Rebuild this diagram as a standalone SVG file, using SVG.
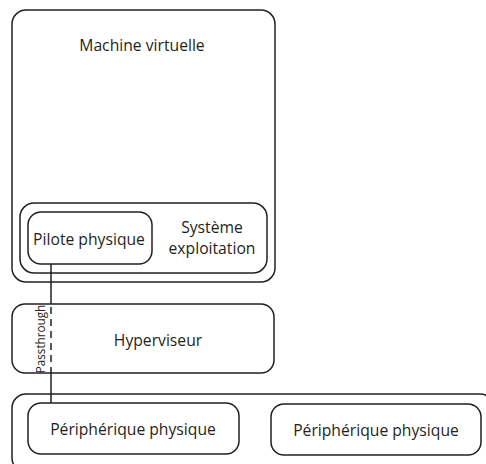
<svg xmlns="http://www.w3.org/2000/svg" width="486" height="464" viewBox="0 0 486 464">
  <style>
    .box { fill: #ffffff; stroke: #231f20; stroke-width: 1.5; }
    .lbl { font-family: "Open Sans", "Liberation Sans", sans-serif; font-size: 15.7px; fill: #231f20; text-anchor: middle; }
    .small { font-family: "Open Sans", "Liberation Sans", sans-serif; font-size: 11.7px; fill: #231f20; text-anchor: middle; }
    .wire { fill: none; stroke: #231f20; stroke-width: 1.5; }
  </style>
  <rect width="486" height="464" fill="#ffffff"/>

  <g id="machine-virtuelle">
    <rect class="box" x="12" y="10" width="263" height="272" rx="14"/>
    <text class="lbl" x="142" y="51">Machine virtuelle</text>
  </g>

  <g id="systeme-exploitation">
    <rect class="box" x="20" y="203" width="247" height="70" rx="14"/>
    <text class="lbl" x="212" y="233">Système</text>
    <text class="lbl" x="212" y="254">exploitation</text>
  </g>

  <g id="pilote-physique">
    <rect class="box" x="28" y="212" width="124" height="52" rx="13"/>
    <text class="lbl" x="89" y="245">Pilote physique</text>
  </g>

  <g id="hyperviseur">
    <rect class="box" x="12" y="304" width="262" height="69" rx="13"/>
    <text class="lbl" x="158" y="346">Hyperviseur</text>
  </g>

  <g id="materiel">
    <rect class="box" x="12" y="394" width="482" height="78" rx="14"/>
  </g>

  <g id="peripherique-1">
    <rect class="box" x="28" y="403" width="211" height="51" rx="13"/>
    <text class="lbl" x="133" y="435">Périphérique physique</text>
  </g>

  <g id="peripherique-2">
    <rect class="box" x="271" y="404" width="210" height="51" rx="13"/>
    <text class="lbl" x="376" y="436">Périphérique physique</text>
  </g>

  <g id="connecteurs">
    <path class="wire" d="M51 264 V304"/>
    <path class="wire" d="M51 307 V373" stroke-dasharray="7 5"/>
    <path class="wire" d="M51 373 V403"/>
    <text class="small" transform="translate(45 339) rotate(-90)">Passthrough</text>
  </g>
</svg>
